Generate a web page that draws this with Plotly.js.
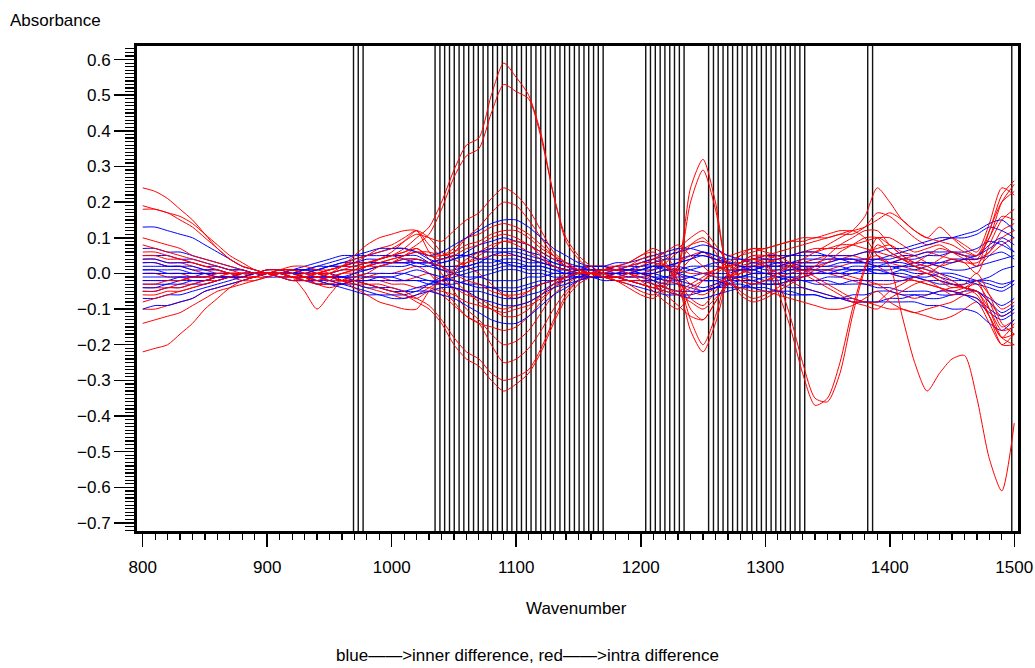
<!DOCTYPE html>
<html>
<head>
<meta charset="utf-8">
<script src="https://cdn.plot.ly/plotly-3.0.1.min.js"></script>
<style>html,body{margin:0;padding:0;background:#fff;}#chart{width:1035px;height:668px;}</style>
</head>
<body>
<div id="chart"></div>
<script>
// Wavenumber grid (every 10 cm-1)
const wavenumbers = [800,810,820,830,840,850,860,870,880,890,900,910,920,930,940,950,960,970,980,990,1000,1010,1020,1030,1040,1050,1060,1070,1080,1090,1100,1110,1120,1130,1140,1150,1160,1170,1180,1190,1200,1210,1220,1230,1240,1250,1260,1270,1280,1290,1300,1310,1320,1330,1340,1350,1360,1370,1380,1390,1400,1410,1420,1430,1440,1450,1460,1470,1480,1490,1500];

// Selected wavenumbers (vertical reference lines)
const selectedWavenumbers = [969.3,973.1,977.0,
1034.8,1038.7,1042.5,1046.4,1050.2,1054.1,1057.9,1061.8,1065.7,1069.5,1073.4,1077.2,1081.1,1084.9,1088.8,1092.7,1096.5,1100.4,1104.2,1108.1,1111.9,1115.8,1119.7,1123.5,1127.4,1131.2,1135.1,1138.9,1142.8,1146.7,1150.5,1154.4,1158.2,1162.1,1165.9,1169.8,
1204.0,1207.8,1211.7,1215.6,1219.4,1223.3,1227.1,1231.0,1234.8,
1254.5,1258.4,1262.2,1266.1,1269.9,1273.8,1277.7,1281.5,1285.4,1289.2,1293.1,1296.9,1300.8,1304.7,1308.5,1312.4,1316.2,1320.1,1323.9,1327.8,1331.7,
1382.3,1386.2,1498.0];

// Intra difference spectra (red)
const red01 = [0.05,0.05,0.04,0.04,0.03,0.02,0.01,0.0,-0.01,-0.01, 0.0,0.0,-0.01,-0.01,0.0,0.01,0.02,0.03,0.03,0.04, 0.05,0.07,0.1,0.13,0.2,0.29,0.36,0.38,0.5,0.59, 0.55,0.5,0.39,0.22,0.1,0.05,0.02,0.0,-0.02,-0.03, -0.05,-0.06,-0.03,0.02,0.24,0.32,0.2,0.0,-0.05,-0.07, -0.06,-0.04,-0.02,0.0,0.02,0.05,0.08,0.1,0.12,0.12, 0.08,0.05,0.03,0.02,0.04,0.06,0.05,0.02,0.12,0.2, 0.23];
const red02 = [0.08,0.07,0.06,0.05,0.04,0.03,0.02,0.01,0.0,0.0, 0.0,-0.01,-0.01,0.0,0.0,0.01,0.02,0.02,0.03,0.04, 0.05,0.06,0.08,0.11,0.18,0.27,0.33,0.35,0.45,0.53, 0.51,0.49,0.38,0.22,0.09,0.04,0.01,-0.01,-0.02,-0.04, -0.06,-0.07,-0.04,0.01,0.2,0.29,0.18,0.0,-0.06,-0.08, -0.07,-0.05,-0.03,-0.01,0.01,0.03,0.06,0.08,0.1,0.1, 0.06,0.04,0.02,0.0,0.02,0.04,0.03,0.0,0.08,0.15, 0.18];
const red03 = [0.19,0.18,0.17,0.15,0.13,0.1,0.07,0.04,0.02,0.01, 0.0,0.0,-0.01,-0.01,0.0,0.01,0.02,0.04,0.05,0.06, 0.07,0.09,0.11,0.1,0.09,0.12,0.15,0.17,0.21,0.24, 0.22,0.18,0.12,0.06,0.03,0.01,0.0,-0.01,-0.01,-0.02, -0.03,-0.04,-0.02,0.02,0.08,0.1,0.06,0.0,-0.02,-0.03, -0.02,0.0,0.02,0.04,0.06,0.08,0.1,0.12,0.16,0.24, 0.2,0.15,0.12,0.1,0.13,0.1,0.07,0.05,0.1,0.2, 0.25];
const red04 = [0.24,0.23,0.21,0.18,0.15,0.11,0.07,0.04,0.02,0.01, 0.0,-0.01,-0.02,-0.02,-0.01,0.0,0.02,0.05,0.08,0.1, 0.11,0.12,0.12,0.06,0.02,-0.02,-0.05,-0.08,-0.1,-0.12, -0.12,-0.1,-0.06,-0.03,-0.01,0.0,0.0,0.01,0.01,0.0, -0.02,-0.05,-0.08,-0.1,-0.06,-0.02,0.01,0.03,0.05,0.06, 0.07,0.08,0.09,0.1,0.1,0.11,0.12,0.12,0.13,0.15, 0.17,0.15,0.12,0.1,0.09,0.08,0.06,0.05,0.12,0.22, 0.26];
const red05 = [-0.05,-0.05,-0.04,-0.04,-0.03,-0.02,-0.01,0.0,0.0,0.0, 0.0,0.0,0.01,0.0,-0.01,-0.02,-0.02,-0.03,-0.03,-0.04, -0.05,-0.06,-0.08,-0.1,-0.14,-0.2,-0.24,-0.26,-0.3,-0.33, -0.31,-0.28,-0.22,-0.14,-0.07,-0.03,-0.01,0.0,0.01,0.02, 0.04,0.05,0.02,-0.03,-0.16,-0.22,-0.14,-0.02,0.03,0.05, 0.05,0.04,0.02,0.0,-0.02,-0.04,-0.06,-0.08,-0.09,-0.1, -0.07,-0.05,-0.03,-0.02,-0.04,-0.06,-0.05,-0.02,-0.1,-0.18, -0.2];
const red06 = [-0.08,-0.07,-0.06,-0.05,-0.04,-0.03,-0.02,-0.01,0.0,0.0, 0.01,0.01,0.01,0.0,0.0,-0.01,-0.02,-0.02,-0.03,-0.03, -0.04,-0.05,-0.07,-0.09,-0.13,-0.18,-0.22,-0.24,-0.28,-0.3, -0.29,-0.27,-0.21,-0.13,-0.06,-0.02,0.0,0.01,0.02,0.03, 0.05,0.06,0.03,-0.02,-0.13,-0.2,-0.12,0.0,0.05,0.07, 0.06,0.05,0.03,0.01,-0.01,-0.03,-0.05,-0.07,-0.08,-0.08, -0.05,-0.03,-0.01,0.0,-0.02,-0.04,-0.03,0.0,-0.06,-0.14, -0.17];
const red07 = [-0.22,-0.21,-0.2,-0.17,-0.14,-0.1,-0.07,-0.04,-0.02,-0.01, 0.0,0.01,0.02,0.02,0.01,0.0,-0.02,-0.04,-0.06,-0.08, -0.09,-0.1,-0.1,-0.05,-0.02,0.01,0.04,0.06,0.08,0.09, 0.09,0.08,0.05,0.02,0.01,0.0,0.0,-0.01,-0.01,0.0, 0.02,0.04,0.06,0.08,0.05,0.02,-0.01,-0.03,-0.04,-0.05, -0.05,-0.06,-0.07,-0.08,-0.09,-0.1,-0.1,-0.09,-0.07,-0.05, -0.08,-0.1,-0.11,-0.1,-0.09,-0.08,-0.06,-0.05,-0.12,-0.2, -0.2];
const red08 = [0.1,0.09,0.08,0.07,0.05,0.04,0.03,0.02,0.01,0.0, 0.0,0.0,-0.01,-0.02,-0.03,-0.03,-0.02,-0.01,0.0,0.02, 0.03,0.05,0.06,0.05,0.04,0.05,0.07,0.08,0.1,0.11, 0.1,0.08,0.06,0.04,0.02,0.01,0.0,0.0,-0.01,-0.02, -0.03,-0.04,-0.05,-0.06,-0.04,-0.02,0.0,0.02,0.03,0.04, 0.02,-0.05,-0.15,-0.28,-0.37,-0.35,-0.25,-0.1,0.02,0.1, 0.08,0.05,0.03,0.02,0.0,-0.02,-0.04,-0.05,-0.1,-0.16, -0.15];
const red09 = [0.06,0.06,0.05,0.04,0.03,0.02,0.01,0.0,0.0,-0.01, -0.01,0.0,0.0,-0.01,-0.02,-0.01,0.0,0.01,0.02,0.03, 0.04,0.05,0.06,0.06,0.05,0.06,0.08,0.09,0.11,0.12, 0.12,0.1,0.07,0.05,0.03,0.01,0.0,-0.01,-0.02,-0.02, -0.02,-0.03,-0.04,-0.05,-0.03,-0.01,0.01,0.02,0.03,0.04, 0.03,-0.02,-0.12,-0.25,-0.35,-0.36,-0.28,-0.12,0.01,0.08, 0.06,0.04,0.02,0.01,-0.01,-0.03,-0.04,-0.06,-0.12,-0.18, -0.17];
const red10 = [-0.03,-0.03,-0.02,-0.02,-0.01,-0.01,0.0,0.0,0.0,0.0, 0.0,0.01,0.01,0.0,0.0,0.0,0.01,0.01,0.02,0.02, 0.03,0.04,0.04,0.03,0.02,0.0,-0.02,-0.03,-0.05,-0.06, -0.06,-0.05,-0.03,-0.02,-0.01,0.0,0.0,0.01,0.01,0.02, 0.03,0.03,0.02,0.01,0.0,0.0,0.01,0.02,0.03,0.04, 0.05,0.06,0.07,0.08,0.09,0.1,0.11,0.12,0.1,0.05, 0.02,-0.12,-0.25,-0.33,-0.28,-0.24,-0.23,-0.35,-0.52,-0.61, -0.42];
const red11 = [0.03,0.03,0.02,0.02,0.01,0.0,-0.01,-0.01,-0.02,-0.02, -0.01,0.0,0.0,-0.01,-0.03,-0.02,0.0,0.01,0.02,0.03, 0.04,0.05,0.07,0.04,0.0,-0.05,-0.1,-0.13,-0.17,-0.2, -0.19,-0.16,-0.11,-0.06,-0.03,-0.01,0.0,0.01,0.01,0.0, -0.01,-0.03,-0.06,-0.09,-0.12,-0.13,-0.08,-0.02,0.02,0.03, 0.04,0.05,0.05,0.06,0.07,0.07,0.08,0.08,0.07,0.06, 0.05,0.04,0.03,0.05,0.07,0.06,0.05,0.04,0.06,0.1, 0.12];
const red12 = [-0.1,-0.1,-0.09,-0.08,-0.07,-0.05,-0.04,-0.03,-0.02,-0.01, 0.0,0.0,0.01,0.01,0.0,-0.01,-0.02,-0.03,-0.04,-0.05, -0.06,-0.07,-0.06,-0.04,-0.02,0.0,0.03,0.05,0.07,0.09, 0.08,0.06,0.04,0.02,0.01,0.0,-0.01,-0.01,0.0,0.0, 0.01,0.02,0.04,0.07,0.1,0.12,0.08,0.03,-0.01,-0.02, -0.03,-0.03,-0.02,-0.01,0.0,0.01,0.02,0.03,0.04,0.05, 0.03,0.02,0.01,0.0,-0.02,-0.03,-0.04,-0.05,-0.08,-0.12, -0.1];
const red13 = [0.18,0.18,0.17,0.16,0.14,0.11,0.08,0.05,0.03,0.01, 0.0,-0.01,-0.02,-0.01,0.0,0.01,0.02,0.03,0.05,0.07, 0.08,0.1,0.12,0.08,0.05,0.06,0.1,0.13,0.17,0.2, 0.19,0.15,0.1,0.05,0.02,0.01,0.0,0.0,-0.01,-0.01, 0.0,0.01,0.03,0.06,0.08,0.09,0.07,0.05,0.06,0.07, 0.07,0.08,0.09,0.09,0.1,0.1,0.11,0.11,0.13,0.17, 0.16,0.13,0.1,0.08,0.09,0.1,0.08,0.06,0.14,0.24, 0.22];
const red14 = [-0.14,-0.13,-0.12,-0.11,-0.09,-0.07,-0.05,-0.04,-0.03,-0.02, -0.01,0.0,0.0,-0.01,-0.03,-0.04,-0.03,-0.02,-0.03,-0.04, -0.05,-0.06,-0.07,-0.05,-0.06,-0.09,-0.12,-0.14,-0.2,-0.25, -0.24,-0.21,-0.16,-0.1,-0.05,-0.02,0.0,0.01,0.02,0.03, 0.05,0.07,0.05,0.0,-0.1,-0.13,-0.08,-0.02,0.01,0.03, 0.02,0.0,-0.02,-0.04,-0.05,-0.06,-0.07,-0.08,-0.08,-0.09, -0.1,-0.1,-0.11,-0.12,-0.13,-0.12,-0.1,-0.08,-0.14,-0.2, -0.17];
const red15 = [0.0,0.0,-0.01,-0.01,-0.02,-0.02,-0.01,-0.01,0.0,0.0, 0.0,0.0,-0.01,-0.05,-0.1,-0.06,-0.02,0.0,0.02,0.04, 0.06,0.09,0.12,0.1,0.06,0.04,0.02,0.0,-0.03,-0.06, -0.07,-0.05,-0.03,-0.02,0.0,0.01,0.02,0.02,0.01,0.0, 0.0,-0.02,-0.04,-0.06,-0.08,-0.1,-0.07,-0.03,0.0,0.02, 0.03,0.04,0.05,0.06,0.06,0.07,0.07,0.08,0.09,0.1, 0.1,0.08,0.06,0.07,0.08,0.06,0.04,0.02,0.05,0.08, 0.1];
const red16 = [-0.06,-0.06,-0.05,-0.05,-0.04,-0.03,-0.02,-0.01,-0.01,0.0, 0.01,0.01,0.0,-0.01,-0.02,-0.03,-0.03,-0.02,-0.01,0.0, 0.0,0.01,0.02,0.0,-0.04,-0.08,-0.12,-0.14,-0.15,-0.16, -0.15,-0.12,-0.08,-0.04,-0.01,0.01,0.02,0.02,0.02,0.01, 0.03,0.04,0.02,-0.02,-0.07,-0.09,-0.05,0.0,0.03,0.05, 0.04,0.03,0.02,0.02,0.01,0.01,0.0,-0.01,-0.02,-0.03, -0.05,-0.06,-0.07,-0.06,-0.05,-0.04,-0.04,-0.03,-0.08,-0.15, -0.13];
const red17 = [0.04,0.04,0.03,0.03,0.02,0.01,0.0,0.0,-0.01,-0.01, 0.0,0.0,0.0,0.0,0.01,0.01,0.02,0.03,0.03,0.04, 0.05,0.06,0.07,0.05,0.05,0.07,0.1,0.11,0.13,0.14, 0.13,0.11,0.08,0.05,0.02,0.01,0.0,-0.01,-0.02,-0.02, -0.03,-0.04,-0.03,0.0,0.04,0.06,0.03,0.0,-0.02,-0.03, -0.02,-0.01,0.0,0.01,0.02,0.03,0.04,0.05,0.06,0.07, 0.08,0.06,0.05,0.03,0.02,0.03,0.04,0.04,0.1,0.16, 0.15];
const red18 = [-0.04,-0.04,-0.04,-0.03,-0.03,-0.02,-0.02,-0.01,-0.01,-0.01, 0.0,0.0,0.0,0.01,0.0,-0.01,-0.01,-0.02,-0.02,-0.02, -0.03,-0.03,-0.04,-0.04,-0.05,-0.06,-0.08,-0.09,-0.1,-0.11, -0.1,-0.09,-0.07,-0.04,-0.02,-0.01,0.0,0.0,0.0,0.01, 0.01,0.02,0.02,0.0,-0.03,-0.05,-0.03,-0.01,0.0,0.01, 0.02,0.02,0.03,0.03,0.03,0.04,0.04,0.04,0.03,0.02, 0.0,-0.01,-0.02,-0.03,-0.04,-0.05,-0.04,-0.02,-0.06,-0.1, -0.08];
const red19 = [0.0,0.0,0.0,0.0,-0.01,-0.01,-0.01,-0.01,0.0,0.0, 0.01,0.01,0.0,0.0,-0.01,0.0,0.01,0.02,0.02,0.03, 0.03,0.03,0.04,0.03,0.02,0.02,0.03,0.04,0.05,0.05, 0.05,0.04,0.03,0.02,0.01,0.0,0.0,-0.01,-0.01,-0.01, -0.01,0.0,0.01,0.03,0.05,0.06,0.04,0.02,0.01,0.0, 0.0,0.01,0.02,0.03,0.04,0.05,0.05,0.05,0.04,0.04, 0.03,0.04,0.05,0.06,0.05,0.04,0.03,0.03,0.06,0.12, 0.14];
const red20 = [-0.02,-0.02,-0.02,-0.02,-0.01,-0.01,-0.01,0.0,0.0,0.0, 0.0,-0.01,-0.01,-0.02,-0.02,-0.01,0.0,0.0,-0.01,-0.01, -0.02,-0.02,-0.01,0.0,-0.02,-0.04,-0.06,-0.07,-0.09,-0.1, -0.09,-0.08,-0.06,-0.03,-0.01,0.0,0.01,0.01,0.0,0.0, 0.0,-0.01,-0.02,-0.03,-0.05,-0.06,-0.04,-0.01,0.01,0.02, 0.02,0.02,0.01,0.01,0.0,0.0,-0.01,-0.02,-0.03,-0.03, -0.03,-0.02,-0.02,-0.03,-0.04,-0.05,-0.06,-0.07,-0.12,-0.18, -0.14];

// Inner difference spectra (blue)
const blue01 = [0.13,0.13,0.12,0.11,0.1,0.08,0.06,0.04,0.02,0.01, 0.0,0.0,0.0,0.01,0.02,0.03,0.04,0.05,0.06,0.07, 0.07,0.07,0.06,0.05,0.06,0.08,0.1,0.12,0.14,0.15, 0.15,0.13,0.1,0.07,0.05,0.03,0.02,0.02,0.01,0.01, 0.01,0.02,0.02,0.03,0.04,0.05,0.04,0.03,0.02,0.02, 0.02,0.02,0.03,0.03,0.03,0.03,0.04,0.04,0.04,0.04, 0.05,0.06,0.07,0.08,0.09,0.1,0.11,0.12,0.14,0.15, 0.12];
const blue02 = [-0.1,-0.09,-0.09,-0.08,-0.07,-0.05,-0.04,-0.03,-0.02,-0.01, 0.0,0.0,0.0,-0.01,-0.01,-0.02,-0.03,-0.04,-0.05,-0.06, -0.06,-0.06,-0.05,-0.05,-0.06,-0.07,-0.09,-0.11,-0.13,-0.14, -0.14,-0.12,-0.09,-0.06,-0.04,-0.02,-0.01,-0.01,0.0,0.0, 0.0,-0.01,-0.01,-0.02,-0.03,-0.04,-0.03,-0.02,-0.02,-0.02, -0.03,-0.03,-0.04,-0.04,-0.05,-0.06,-0.07,-0.07,-0.08,-0.08, -0.08,-0.08,-0.08,-0.09,-0.09,-0.1,-0.1,-0.11,-0.14,-0.16, -0.13];
const blue03 = [0.05,0.05,0.05,0.04,0.04,0.03,0.02,0.01,0.01,0.0, 0.0,0.0,0.0,0.0,0.01,0.02,0.03,0.04,0.05,0.06, 0.07,0.07,0.06,0.04,0.03,0.04,0.06,0.08,0.09,0.1, 0.09,0.08,0.06,0.04,0.03,0.02,0.01,0.01,0.01,0.02, 0.03,0.04,0.05,0.06,0.07,0.08,0.07,0.05,0.04,0.03, 0.03,0.03,0.03,0.02,0.02,0.02,0.02,0.01,0.01,0.0, 0.0,0.01,0.01,0.02,0.03,0.03,0.04,0.05,0.07,0.09, 0.06];
const blue04 = [-0.05,-0.05,-0.04,-0.04,-0.03,-0.03,-0.02,-0.01,0.0,0.0, 0.0,0.0,-0.01,-0.01,-0.02,-0.03,-0.04,-0.05,-0.06,-0.06, -0.07,-0.07,-0.06,-0.05,-0.04,-0.04,-0.05,-0.07,-0.08,-0.09, -0.09,-0.08,-0.06,-0.04,-0.03,-0.02,-0.01,-0.01,-0.01,-0.02, -0.03,-0.04,-0.05,-0.06,-0.07,-0.07,-0.06,-0.05,-0.04,-0.03, -0.03,-0.03,-0.02,-0.02,-0.02,-0.01,-0.01,0.0,0.0,0.0, 0.0,-0.01,-0.01,-0.02,-0.03,-0.03,-0.04,-0.05,-0.07,-0.09, -0.07];
const blue05 = [0.03,0.03,0.02,0.02,0.02,0.01,0.01,0.0,0.0,0.0, 0.0,0.01,0.01,0.01,0.02,0.02,0.03,0.03,0.04,0.04, 0.05,0.05,0.05,0.03,0.01,0.0,-0.01,-0.01,-0.02,-0.02, -0.02,-0.01,-0.01,0.0,0.0,0.01,0.01,0.01,0.02,0.02, 0.02,0.03,0.04,0.04,0.05,0.05,0.04,0.03,0.02,0.02, 0.01,0.01,0.01,0.02,0.02,0.02,0.03,0.03,0.03,0.04, 0.04,0.05,0.05,0.06,0.06,0.06,0.05,0.05,0.08,0.1, 0.08];
const blue06 = [-0.02,-0.02,-0.02,-0.01,-0.01,-0.01,0.0,0.0,0.0,0.0, -0.01,-0.01,-0.01,-0.02,-0.02,-0.02,-0.03,-0.03,-0.04,-0.04, -0.04,-0.05,-0.05,-0.03,-0.01,0.0,0.01,0.02,0.02,0.03, 0.03,0.02,0.02,0.01,0.0,0.0,-0.01,-0.01,-0.01,-0.02, -0.02,-0.03,-0.04,-0.05,-0.05,-0.05,-0.04,-0.03,-0.02,-0.02, -0.01,-0.01,-0.01,-0.02,-0.02,-0.02,-0.03,-0.03,-0.03,-0.04, -0.04,-0.05,-0.05,-0.05,-0.06,-0.06,-0.05,-0.05,-0.08,-0.11, -0.09];
const blue07 = [0.01,0.01,0.01,0.01,0.0,0.0,0.0,0.0,0.0,0.0, 0.0,0.0,0.01,0.01,0.01,0.02,0.02,0.02,0.03,0.03, 0.03,0.03,0.02,0.02,0.03,0.04,0.05,0.06,0.07,0.07, 0.07,0.06,0.05,0.03,0.02,0.01,0.01,0.0,0.0,0.0, 0.0,0.0,0.01,0.01,0.02,0.02,0.02,0.01,0.01,0.01, 0.0,0.0,0.0,0.0,0.0,0.0,0.01,0.01,0.01,0.01, 0.01,0.02,0.02,0.03,0.03,0.04,0.04,0.04,0.05,0.06, 0.04];
const blue08 = [-0.01,-0.01,-0.01,-0.01,-0.01,0.0,0.0,0.0,0.0,0.0, 0.0,0.0,-0.01,-0.01,-0.01,-0.01,-0.02,-0.02,-0.02,-0.02, -0.02,-0.02,-0.02,-0.02,-0.03,-0.04,-0.05,-0.05,-0.06,-0.07, -0.07,-0.06,-0.05,-0.03,-0.02,-0.01,-0.01,0.0,0.0,0.0, 0.0,0.0,-0.01,-0.01,-0.01,-0.02,-0.02,-0.01,-0.01,0.0, 0.0,0.0,0.01,0.01,0.01,0.01,0.01,0.02,0.02,0.02, 0.02,0.01,0.0,0.0,-0.01,-0.02,-0.02,-0.03,-0.04,-0.05, -0.03];
const blue09 = [0.02,0.02,0.02,0.02,0.01,0.01,0.01,0.0,0.0,0.0, 0.0,0.0,0.0,0.0,0.0,0.0,0.01,0.01,0.01,0.02, 0.02,0.02,0.03,0.03,0.04,0.05,0.05,0.04,0.04,0.03, 0.02,0.02,0.02,0.01,0.01,0.01,0.0,0.0,0.0,0.01, 0.01,0.01,0.02,0.03,0.04,0.06,0.05,0.03,0.02,0.01, 0.02,0.03,0.03,0.04,0.04,0.04,0.04,0.03,0.03,0.02, 0.02,0.02,0.03,0.03,0.02,0.01,0.01,0.02,0.03,0.04, 0.05];
const blue10 = [-0.03,-0.03,-0.03,-0.02,-0.02,-0.02,-0.01,-0.01,0.0,0.0, 0.0,0.0,0.0,0.0,0.0,0.0,-0.01,-0.01,-0.01,-0.01, -0.01,-0.02,-0.02,-0.03,-0.03,-0.03,-0.02,-0.01,0.0,0.01, 0.01,0.0,0.0,-0.01,-0.01,-0.01,0.0,0.0,0.0,-0.01, -0.01,-0.02,-0.03,-0.03,-0.04,-0.05,-0.04,-0.02,-0.01,0.0, 0.0,-0.01,-0.02,-0.02,-0.03,-0.03,-0.03,-0.02,-0.02,-0.02, -0.02,-0.02,-0.01,-0.01,0.0,0.0,-0.01,-0.02,-0.03,-0.04, -0.02];
const blue11 = [0.04,0.04,0.03,0.03,0.03,0.02,0.02,0.01,0.01,0.0, 0.0,0.0,0.01,0.02,0.03,0.04,0.05,0.05,0.05,0.05, 0.05,0.04,0.03,0.03,0.04,0.05,0.05,0.06,0.06,0.06, 0.05,0.04,0.03,0.02,0.01,0.0,0.0,-0.01,-0.01,-0.02, -0.02,-0.02,-0.01,0.0,0.01,0.02,0.03,0.03,0.03,0.04, 0.04,0.04,0.05,0.05,0.05,0.05,0.04,0.04,0.03,0.03, 0.03,0.04,0.04,0.05,0.05,0.06,0.06,0.07,0.09,0.08, 0.06];
const blue12 = [-0.04,-0.04,-0.03,-0.03,-0.02,-0.02,-0.01,-0.01,-0.01,0.0, 0.0,-0.01,-0.02,-0.02,-0.03,-0.03,-0.03,-0.02,-0.02,-0.01, -0.01,0.0,0.01,0.0,-0.01,-0.02,-0.03,-0.04,-0.04,-0.05, -0.05,-0.04,-0.03,-0.02,-0.01,0.0,0.0,0.0,0.01,0.01, 0.02,0.02,0.01,0.0,-0.01,-0.02,-0.02,-0.03,-0.03,-0.04, -0.05,-0.05,-0.06,-0.06,-0.06,-0.07,-0.07,-0.06,-0.06,-0.05, -0.05,-0.06,-0.06,-0.07,-0.07,-0.06,-0.06,-0.07,-0.1,-0.12, -0.1];
const blue13 = [0.0,0.0,0.0,0.0,0.0,0.0,0.0,0.0,0.0,0.0, 0.01,0.01,0.01,0.0,0.0,-0.01,-0.01,0.0,0.01,0.02, 0.03,0.04,0.04,0.03,0.02,0.02,0.02,0.03,0.03,0.04, 0.04,0.03,0.03,0.02,0.01,0.0,0.0,0.01,0.01,0.01, 0.0,-0.01,-0.02,-0.02,-0.01,0.0,0.0,0.0,0.01,0.01, 0.02,0.02,0.02,0.01,0.01,0.0,0.0,0.0,0.01,0.02, 0.03,0.03,0.02,0.01,0.0,-0.01,-0.02,-0.02,-0.01,0.01, 0.02];
const blue14 = [0.07,0.07,0.06,0.06,0.05,0.04,0.03,0.02,0.01,0.0, 0.0,0.0,0.0,0.01,0.01,0.02,0.02,0.03,0.03,0.03, 0.03,0.03,0.03,0.02,0.01,0.01,0.02,0.03,0.05,0.06, 0.06,0.05,0.04,0.03,0.02,0.02,0.02,0.02,0.03,0.03, 0.04,0.05,0.06,0.07,0.07,0.06,0.05,0.04,0.04,0.04, 0.05,0.05,0.05,0.06,0.06,0.05,0.05,0.05,0.06,0.06, 0.07,0.07,0.08,0.09,0.1,0.1,0.1,0.11,0.13,0.12, 0.1];
const blue15 = [-0.07,-0.07,-0.06,-0.06,-0.05,-0.04,-0.03,-0.02,-0.01,0.0, 0.0,0.0,0.0,-0.01,-0.01,-0.01,-0.01,-0.02,-0.03,-0.04, -0.05,-0.05,-0.04,-0.03,-0.02,-0.02,-0.03,-0.03,-0.04,-0.04, -0.04,-0.03,-0.02,-0.02,-0.01,-0.01,-0.01,-0.02,-0.02,-0.03, -0.04,-0.05,-0.06,-0.06,-0.06,-0.05,-0.04,-0.04,-0.04,-0.04, -0.04,-0.05,-0.05,-0.06,-0.06,-0.07,-0.07,-0.08,-0.08,-0.08, -0.07,-0.07,-0.06,-0.06,-0.05,-0.05,-0.06,-0.08,-0.11,-0.13, -0.11];
const blue16 = [0.01,0.01,0.0,0.0,0.0,0.0,-0.01,-0.01,-0.01,0.0, 0.0,0.0,0.0,0.0,-0.01,-0.01,-0.01,-0.01,0.0,0.0, 0.0,0.0,-0.01,-0.02,-0.02,-0.01,0.0,0.01,0.01,0.02, 0.02,0.01,0.01,0.0,0.0,-0.01,-0.01,-0.01,-0.01,0.0, 0.01,0.02,0.02,0.02,0.01,0.0,-0.01,-0.01,-0.01,-0.01, -0.02,-0.02,-0.01,-0.01,0.0,0.0,0.0,0.01,0.01,0.01, 0.0,0.0,-0.01,-0.02,-0.02,-0.03,-0.03,-0.02,-0.02,-0.03, -0.02];

const minorRed = [red11,red12,red13,red14,red15,red16,red17,red18,red19,red20];
const blueSet = [blue01,blue02,blue03,blue04,blue05,blue06,blue07,blue08,blue09,blue10,blue11,blue12,blue13,blue14,blue15,blue16];
const majorRed = [red04,red07,red03,red05,red06,red08,red09,red10,red02,red01];

const traces = [];
function addTrace(y, color) {
  traces.push({x: wavenumbers, y: y, type: 'scatter', mode: 'lines',
    line: {color: color, width: 1, shape: 'spline', smoothing: 0.7},
    hoverinfo: 'skip', showlegend: false});
}
minorRed.forEach(s => addTrace(s, '#ff0000'));
blueSet.forEach(s => addTrace(s, '#0000ff'));
majorRed.forEach(s => addTrace(s, '#ff0000'));

const shapes = selectedWavenumbers.map(w => ({
  type: 'line', xref: 'x', yref: 'paper', x0: w, x1: w, y0: 0, y1: 1,
  line: {color: '#111', width: 1.4}, layer: 'below'
}));

const font = {family: '"Liberation Sans", Arial, sans-serif', size: 17, color: '#000'};

const layout = {
  width: 1035, height: 668,
  margin: {l: 137, r: 17, t: 46, b: 137},
  paper_bgcolor: '#fff', plot_bgcolor: '#fff',
  font: font,
  showlegend: false,
  xaxis: {
    range: [795.4, 1503], tick0: 800, dtick: 100,
    ticks: 'outside', ticklen: 13, tickwidth: 1.5, tickcolor: '#000',
    minor: {dtick: 10, ticks: 'outside', ticklen: 6, tickwidth: 1.2, tickcolor: '#000', showgrid: false},
    showline: true, linewidth: 3, linecolor: '#000', mirror: true,
    showgrid: false, zeroline: false, tickfont: font, ticklabelstandoff: 6
  },
  yaxis: {
    range: [-0.7225, 0.638], tick0: 0, dtick: 0.1, tickformat: '.1f',
    ticks: 'outside', ticklen: 20, tickwidth: 1.5, tickcolor: '#000',
    minor: {dtick: 0.01, ticks: 'outside', ticklen: 9, tickwidth: 1.2, tickcolor: '#000', showgrid: false},
    showline: true, linewidth: 3, linecolor: '#000', mirror: true,
    showgrid: false, zeroline: false, tickfont: font
  },
  shapes: shapes,
  annotations: [
    {text: 'Absorbance', xref: 'paper', yref: 'paper', x: -0.1465, y: 1.0536, xanchor: 'left', yanchor: 'middle', showarrow: false, font: font},
    {text: 'Wavenumber', xref: 'paper', yref: 'paper', x: 0.4983, y: -0.1608, xanchor: 'center', yanchor: 'middle', showarrow: false, font: font},
    {text: 'blue\u2014\u2014>inner difference, red\u2014\u2014>intra difference', xref: 'paper', yref: 'paper', x: 0.4427, y: -0.256, xanchor: 'center', yanchor: 'middle', showarrow: false, borderpad: 0, font: font}
  ]
};

Plotly.newPlot('chart', traces, layout, {staticPlot: true, displayModeBar: false});
</script>
</body>
</html>
